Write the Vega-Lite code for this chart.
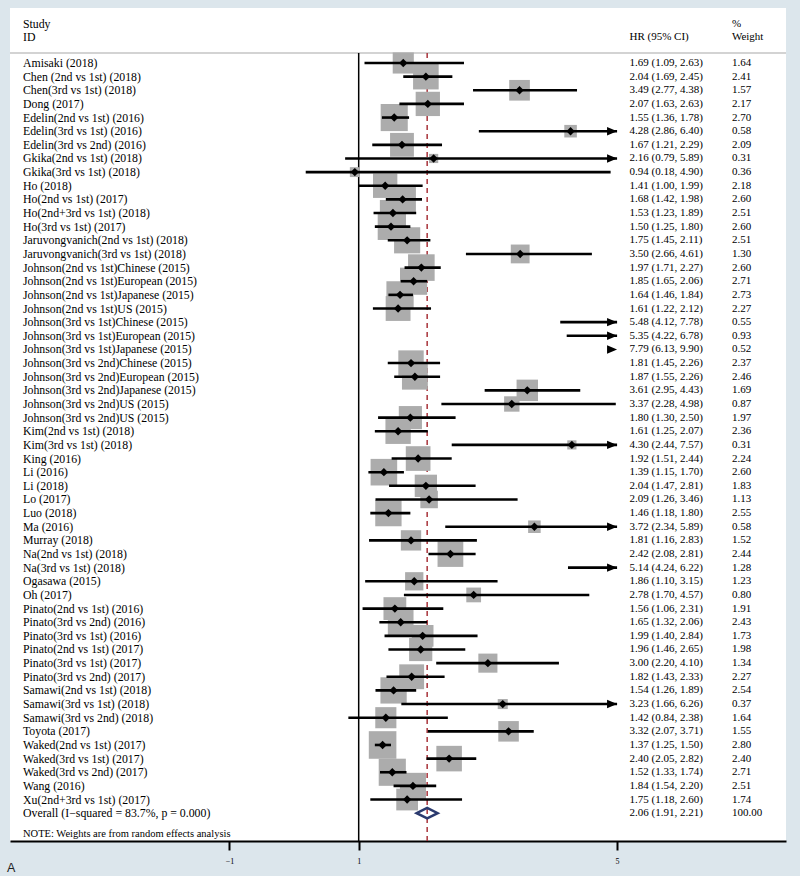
{
  "$schema": "https://vega.github.io/schema/vega-lite/v6.json",
  "width": 776,
  "height": 833,
  "autosize": {"type": "none"},
  "padding": {"left": 10, "top": 8, "right": 14, "bottom": 35},
  "background": "#dce6ec",
  "config": {
    "view": {"fill": "white", "stroke": null},
    "axisX": {"grid": false, "domainColor": "#000", "domainWidth": 2, "tickColor": "#000", "tickWidth": 2, "tickSize": 9, "labelFontSize": 8, "labelColor": "#000", "labelFont": "Liberation Serif", "labelPadding": 7},
    "text": {"font": "Liberation Serif", "color": "#000", "align": "left", "baseline": "middle"}
  },
  "data": {"values": [
    {"study":"Amisaki (2018)","hr":1.69,"lci":1.09,"uci":2.63,"weight":1.64},
    {"study":"Chen (2nd vs 1st) (2018)","hr":2.04,"lci":1.69,"uci":2.45,"weight":2.41},
    {"study":"Chen(3rd vs 1st) (2018)","hr":3.49,"lci":2.77,"uci":4.38,"weight":1.57},
    {"study":"Dong (2017)","hr":2.07,"lci":1.63,"uci":2.63,"weight":2.17},
    {"study":"Edelin(2nd vs 1st) (2016)","hr":1.55,"lci":1.36,"uci":1.78,"weight":2.70},
    {"study":"Edelin(3rd vs 1st) (2016)","hr":4.28,"lci":2.86,"uci":6.40,"weight":0.58},
    {"study":"Edelin(3rd vs 2nd) (2016)","hr":1.67,"lci":1.21,"uci":2.29,"weight":2.09},
    {"study":"Gkika(2nd vs 1st) (2018)","hr":2.16,"lci":0.79,"uci":5.89,"weight":0.31},
    {"study":"Gkika(3rd vs 1st) (2018)","hr":0.94,"lci":0.18,"uci":4.90,"weight":0.36},
    {"study":"Ho (2018)","hr":1.41,"lci":1.00,"uci":1.99,"weight":2.18},
    {"study":"Ho(2nd vs 1st) (2017)","hr":1.68,"lci":1.42,"uci":1.98,"weight":2.60},
    {"study":"Ho(2nd+3rd vs 1st) (2018)","hr":1.53,"lci":1.23,"uci":1.89,"weight":2.51},
    {"study":"Ho(3rd vs 1st) (2017)","hr":1.50,"lci":1.25,"uci":1.80,"weight":2.60},
    {"study":"Jaruvongvanich(2nd vs 1st) (2018)","hr":1.75,"lci":1.45,"uci":2.11,"weight":2.51},
    {"study":"Jaruvongvanich(3rd vs 1st) (2018)","hr":3.50,"lci":2.66,"uci":4.61,"weight":1.30},
    {"study":"Johnson(2nd vs 1st)Chinese (2015)","hr":1.97,"lci":1.71,"uci":2.27,"weight":2.60},
    {"study":"Johnson(2nd vs 1st)European (2015)","hr":1.85,"lci":1.65,"uci":2.06,"weight":2.71},
    {"study":"Johnson(2nd vs 1st)Japanese (2015)","hr":1.64,"lci":1.46,"uci":1.84,"weight":2.73},
    {"study":"Johnson(2nd vs 1st)US (2015)","hr":1.61,"lci":1.22,"uci":2.12,"weight":2.27},
    {"study":"Johnson(3rd vs 1st)Chinese (2015)","hr":5.48,"lci":4.12,"uci":7.78,"weight":0.55},
    {"study":"Johnson(3rd vs 1st)European  (2015)","hr":5.35,"lci":4.22,"uci":6.78,"weight":0.93},
    {"study":"Johnson(3rd vs 1st)Japanese (2015)","hr":7.79,"lci":6.13,"uci":9.90,"weight":0.52},
    {"study":"Johnson(3rd vs 2nd)Chinese (2015)","hr":1.81,"lci":1.45,"uci":2.26,"weight":2.37},
    {"study":"Johnson(3rd vs 2nd)European  (2015)","hr":1.87,"lci":1.55,"uci":2.26,"weight":2.46},
    {"study":"Johnson(3rd vs 2nd)Japanese (2015)","hr":3.61,"lci":2.95,"uci":4.43,"weight":1.69},
    {"study":"Johnson(3rd vs 2nd)US (2015)","hr":3.37,"lci":2.28,"uci":4.98,"weight":0.87},
    {"study":"Johnson(3rd vs 2nd)US (2015)","hr":1.80,"lci":1.30,"uci":2.50,"weight":1.97},
    {"study":"Kim(2nd vs 1st) (2018)","hr":1.61,"lci":1.25,"uci":2.07,"weight":2.36},
    {"study":"Kim(3rd vs 1st) (2018)","hr":4.30,"lci":2.44,"uci":7.57,"weight":0.31},
    {"study":"King (2016)","hr":1.92,"lci":1.51,"uci":2.44,"weight":2.24},
    {"study":"Li (2016)","hr":1.39,"lci":1.15,"uci":1.70,"weight":2.60},
    {"study":"Li (2018)","hr":2.04,"lci":1.47,"uci":2.81,"weight":1.83},
    {"study":"Lo (2017)","hr":2.09,"lci":1.26,"uci":3.46,"weight":1.13},
    {"study":"Luo (2018)","hr":1.46,"lci":1.18,"uci":1.80,"weight":2.55},
    {"study":"Ma (2016)","hr":3.72,"lci":2.34,"uci":5.89,"weight":0.58},
    {"study":"Murray (2018)","hr":1.81,"lci":1.16,"uci":2.83,"weight":1.52},
    {"study":"Na(2nd vs 1st) (2018)","hr":2.42,"lci":2.08,"uci":2.81,"weight":2.44},
    {"study":"Na(3rd vs 1st) (2018)","hr":5.14,"lci":4.24,"uci":6.22,"weight":1.28},
    {"study":"Ogasawa (2015)","hr":1.86,"lci":1.10,"uci":3.15,"weight":1.23},
    {"study":"Oh (2017)","hr":2.78,"lci":1.70,"uci":4.57,"weight":0.80},
    {"study":"Pinato(2nd vs 1st) (2016)","hr":1.56,"lci":1.06,"uci":2.31,"weight":1.91},
    {"study":"Pinato(3rd vs 2nd) (2016)","hr":1.65,"lci":1.32,"uci":2.06,"weight":2.43},
    {"study":"Pinato(3rd vs 1st) (2016)","hr":1.99,"lci":1.40,"uci":2.84,"weight":1.73},
    {"study":"Pinato(2nd vs 1st) (2017)","hr":1.96,"lci":1.46,"uci":2.65,"weight":1.98},
    {"study":"Pinato(3rd vs 1st) (2017)","hr":3.00,"lci":2.20,"uci":4.10,"weight":1.34},
    {"study":"Pinato(3rd vs 2nd) (2017)","hr":1.82,"lci":1.43,"uci":2.33,"weight":2.27},
    {"study":"Samawi(2nd vs 1st) (2018)","hr":1.54,"lci":1.26,"uci":1.89,"weight":2.54},
    {"study":"Samawi(3rd vs 1st) (2018)","hr":3.23,"lci":1.66,"uci":6.26,"weight":0.37},
    {"study":"Samawi(3rd vs 2nd) (2018)","hr":1.42,"lci":0.84,"uci":2.38,"weight":1.64},
    {"study":"Toyota (2017)","hr":3.32,"lci":2.07,"uci":3.71,"weight":1.55},
    {"study":"Waked(2nd vs 1st) (2017)","hr":1.37,"lci":1.25,"uci":1.50,"weight":2.80},
    {"study":"Waked(3rd vs 1st) (2017)","hr":2.40,"lci":2.05,"uci":2.82,"weight":2.40},
    {"study":"Waked(3rd vs 2nd) (2017)","hr":1.52,"lci":1.33,"uci":1.74,"weight":2.71},
    {"study":"Wang  (2016)","hr":1.84,"lci":1.54,"uci":2.20,"weight":2.51},
    {"study":"Xu(2nd+3rd vs 1st) (2017)","hr":1.75,"lci":1.18,"uci":2.60,"weight":1.74},
    {"study":"Overall  (I−squared = 83.7%, p = 0.000)","hr":2.06,"lci":1.91,"uci":2.21,"weight":100.00}
  ]},
  "transform": [{"window": [{"op": "row_number", "as": "row"}]}],
  "encoding": {
    "y": {"field": "row", "type": "quantitative", "scale": {"domain": [-3.032, 58.04], "reverse": true, "nice": false, "zero": false}, "axis": null}
  },
  "layer": [
    {
      "transform": [{"filter": "datum.row == 1"}],
      "mark": {"type": "rule", "color": "#a8a8a8", "strokeWidth": 1.2},
      "encoding": {
        "x": {"datum": -4.398, "scale": {"domain": [-4.398, 7.615], "nice": false, "zero": false}, "axis": {"values": [-1, 1, 5], "title": null, "format": "d"}},
        "x2": {"datum": 7.615},
        "y": {"datum": 0.267}
      }
    },
    {
      "transform": [{"filter": "datum.row == 1"}],
      "mark": {"type": "rule", "color": "#000", "strokeWidth": 1.5},
      "encoding": {
        "x": {"datum": 1},
        "y": {"datum": 0.267},
        "y2": {"datum": 58.04}
      }
    },
    {
      "transform": [{"filter": "indexof(datum.study, 'Overall') == 0"}],
      "mark": {"type": "rule", "color": "#a8333a", "strokeWidth": 1.5, "strokeDash": [5, 4]},
      "encoding": {
        "x": {"field": "hr", "type": "quantitative", "title": null},
        "y": {"datum": 0.267},
        "y2": {"datum": 58.04}
      }
    },
    {
      "transform": [{"filter": "indexof(datum.study, 'Overall') < 0 && datum.hr <= 5"}],
      "mark": {"type": "square", "color": "#acacac", "opacity": 1},
      "encoding": {
        "x": {"field": "hr", "type": "quantitative", "title": null},
        "size": {"field": "weight", "type": "quantitative", "scale": {"domain": [0, 3], "range": [0, 816]}, "legend": null}
      }
    },
    {
      "transform": [{"filter": "indexof(datum.study, 'Overall') < 0 && datum.uci <= 5"}],
      "mark": {"type": "rule", "color": "#000", "strokeWidth": 2.6},
      "encoding": {
        "x": {"field": "lci", "type": "quantitative", "title": null},
        "x2": {"field": "uci"}
      }
    },
    {
      "transform": [{"filter": "datum.uci > 5 && datum.lci <= 5"}],
      "mark": {"type": "rule", "color": "#000", "strokeWidth": 2.6},
      "encoding": {
        "x": {"field": "lci", "type": "quantitative", "title": null},
        "x2": {"datum": 5}
      }
    },
    {
      "transform": [{"filter": "datum.uci > 5"}],
      "mark": {"type": "point", "shape": "M-1,-0.42L0,0L-1,0.42Z", "filled": true, "color": "#000", "opacity": 1, "size": 400},
      "encoding": {
        "x": {"datum": 5}
      }
    },
    {
      "transform": [{"filter": "indexof(datum.study, 'Overall') < 0 && datum.hr <= 5"}],
      "mark": {"type": "point", "shape": "diamond", "filled": true, "color": "#000", "opacity": 1, "size": 70},
      "encoding": {
        "x": {"field": "hr", "type": "quantitative", "title": null}
      }
    },
    {
      "transform": [{"filter": "indexof(datum.study, 'Overall') == 0"}],
      "mark": {"type": "point", "shape": "M-1,0L0,-0.5L1,0L0,0.5Z", "filled": false, "stroke": "#2b3a6e", "strokeWidth": 2.5, "opacity": 1, "size": 441},
      "encoding": {
        "x": {"field": "hr", "type": "quantitative", "title": null}
      }
    },
    {
      "mark": {"type": "text", "fontSize": 11.8},
      "encoding": {
        "x": {"datum": -4.197},
        "text": {"field": "study"}
      }
    },
    {
      "mark": {"type": "text", "fontSize": 11, "text": {"expr": "format(datum.hr, '.2f') + ' (' + format(datum.lci, '.2f') + ', ' + format(datum.uci, '.2f') + ')'"}},
      "encoding": {
        "x": {"datum": 5.192}
      }
    },
    {
      "mark": {"type": "text", "fontSize": 11},
      "encoding": {
        "x": {"datum": 6.778},
        "text": {"field": "weight", "format": ".2f"}
      }
    },
    {
      "transform": [{"filter": "datum.row == 1"}],
      "mark": {"type": "text", "fontSize": 11.8, "text": "Study"},
      "encoding": {"x": {"datum": -4.197}, "y": {"datum": -1.859}}
    },
    {
      "transform": [{"filter": "datum.row == 1"}],
      "mark": {"type": "text", "fontSize": 11.8, "text": "ID"},
      "encoding": {"x": {"datum": -4.197}, "y": {"datum": -0.906}}
    },
    {
      "transform": [{"filter": "datum.row == 1"}],
      "mark": {"type": "text", "fontSize": 11, "text": "HR (95% CI)"},
      "encoding": {"x": {"datum": 5.192}, "y": {"datum": -0.906}}
    },
    {
      "transform": [{"filter": "datum.row == 1"}],
      "mark": {"type": "text", "fontSize": 11, "text": "%"},
      "encoding": {"x": {"datum": 6.778}, "y": {"datum": -1.859}}
    },
    {
      "transform": [{"filter": "datum.row == 1"}],
      "mark": {"type": "text", "fontSize": 11, "text": "Weight"},
      "encoding": {"x": {"datum": 6.778}, "y": {"datum": -0.906}}
    },
    {
      "transform": [{"filter": "datum.row == 1"}],
      "mark": {"type": "text", "fontSize": 10.5, "text": "NOTE: Weights are from random effects analysis"},
      "encoding": {"x": {"datum": -4.197}, "y": {"datum": 57.5}}
    },
    {
      "transform": [{"filter": "datum.row == 1"}],
      "mark": {"type": "text", "fontSize": 12.5, "font": "Liberation Sans", "color": "#222", "text": "A"},
      "encoding": {"x": {"datum": -4.444}, "y": {"datum": 60.0}}
    }
  ]
}
